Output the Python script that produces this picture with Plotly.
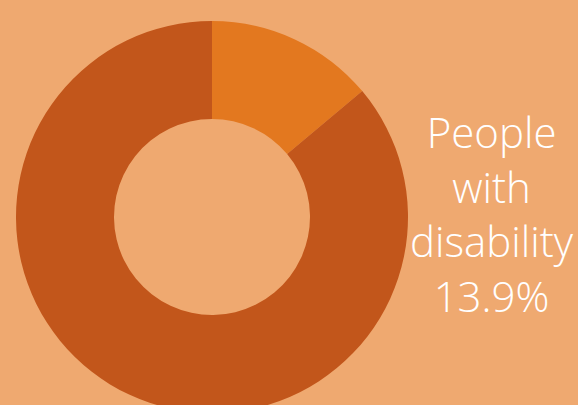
import plotly.graph_objects as go

labels = ["People with disability", "People without disability"]
values = [13.9, 86.1]
colors = ["#E3781F", "#C2561B"]
annotation_lines = ["People", "with", "disability", "13.9%"]

W, H = 578, 434
fig = go.Figure(go.Pie(
    labels=labels,
    values=values,
    hole=0.5,
    sort=False,
    direction="clockwise",
    rotation=0,
    marker=dict(colors=colors, line=dict(width=0)),
    textinfo="none",
    hoverinfo="label+percent",
    domain=dict(x=[16 / W, 408 / W], y=[0, 1]),
    showlegend=False,
))

fig.add_annotation(
    text="<br>".join(annotation_lines),
    x=492 / W, y=1 - 213 / H, xref="paper", yref="paper",
    xanchor="center", yanchor="middle", showarrow=False,
    font=dict(family="Open Sans", size=42, color="white", weight=300),
    align="center",
)

fig.update_layout(
    width=W, height=H,
    margin=dict(l=0, r=0, t=0, b=0),
    paper_bgcolor="#EFA970",
    plot_bgcolor="#EFA970",
)

fig.write_html(
    "out.html",
    config={"displayModeBar": False},
    post_script="document.body.style.margin='0';document.body.style.overflow='hidden';document.documentElement.style.overflow='hidden';document.body.style.background='#EFA970';",
)
